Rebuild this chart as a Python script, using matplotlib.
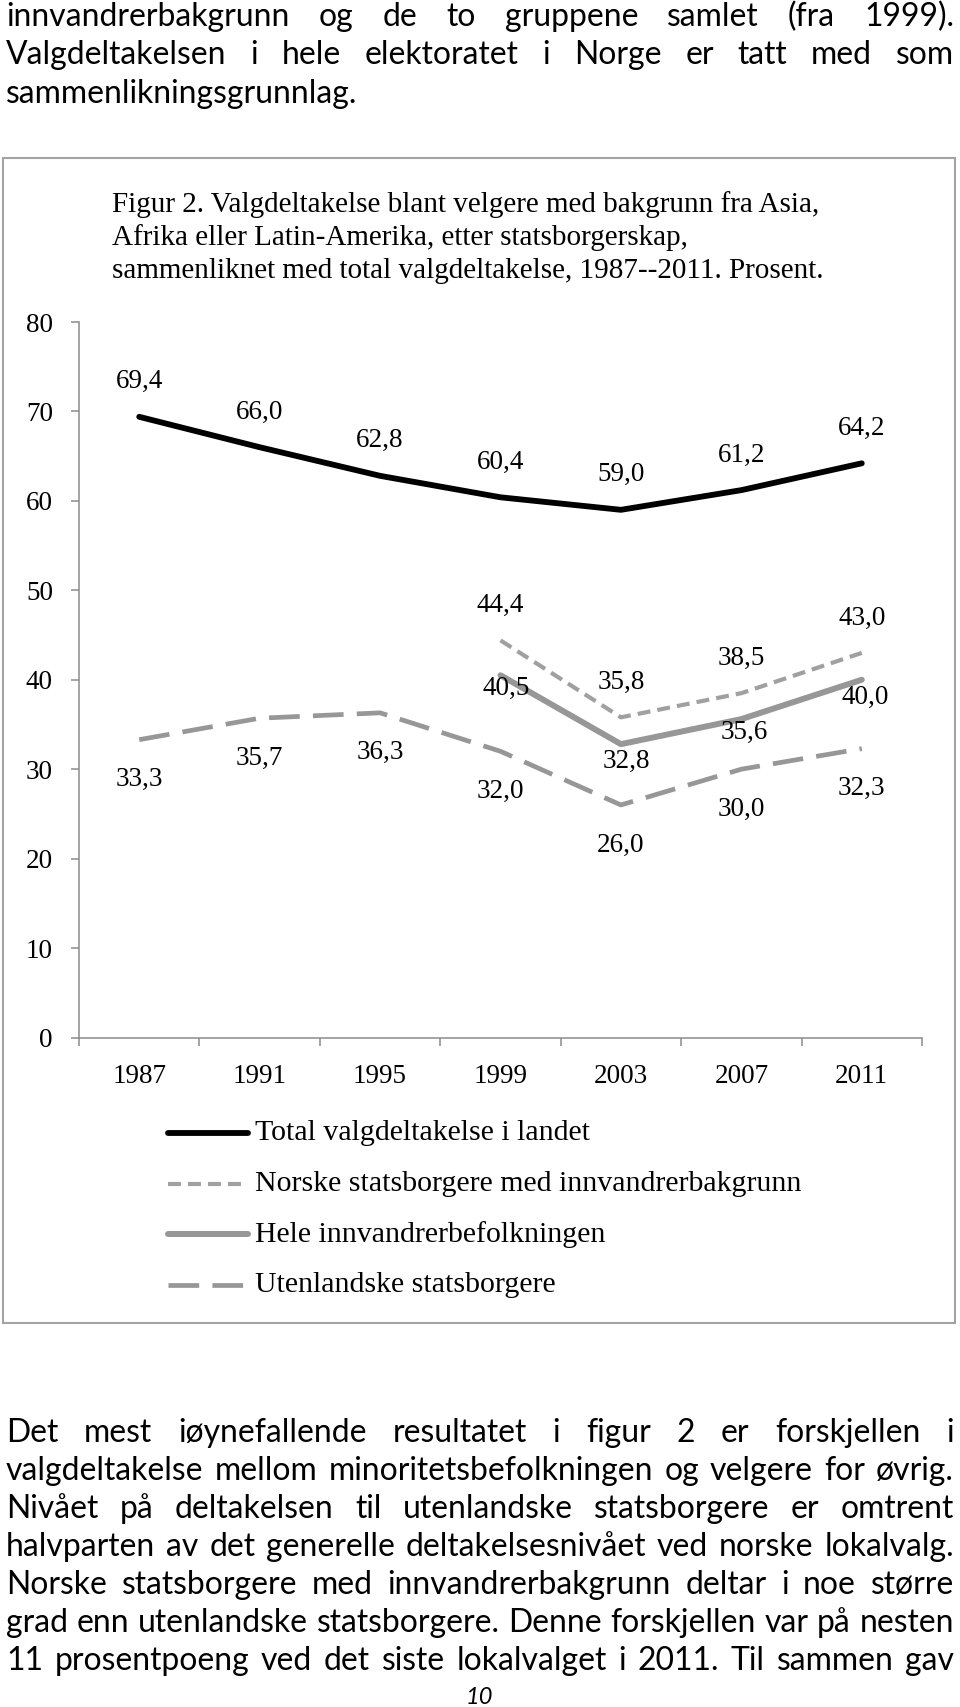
import numpy as np
import matplotlib
matplotlib.use('Agg')
import matplotlib.pyplot as plt
from matplotlib.lines import Line2D
from matplotlib.patches import Rectangle

W, H = 960, 1707

# Data (Prosent)
years = ['1987', '1991', '1995', '1999', '2003', '2007', '2011']
total = [69.4, 66.0, 62.8, 60.4, 59.0, 61.2, 64.2]
norske = [np.nan, np.nan, np.nan, 44.4, 35.8, 38.5, 43.0]
hele = [np.nan, np.nan, np.nan, 40.5, 32.8, 35.6, 40.0]
utenlandske = [33.3, 35.7, 36.3, 32.0, 26.0, 30.0, 32.3]
series_names = ['Total valgdeltakelse i landet',
                'Norske statsborgere med innvandrerbakgrunn',
                'Hele innvandrerbefolkningen',
                'Utenlandske statsborgere']
yticks = [0, 10, 20, 30, 40, 50, 60, 70, 80]

title_lines = ['Figur 2. Valgdeltakelse blant velgere med bakgrunn fra Asia,',
               'Afrika eller Latin-Amerika, etter statsborgerskap,',
               'sammenliknet med total valgdeltakelse, 1987--2011. Prosent.']

top_text = ['innvandrerbakgrunn og de to gruppene samlet (fra 1999).',
            'Valgdeltakelsen i hele elektoratet i Norge er tatt med som',
            'sammenlikningsgrunnlag.']
bottom_text = ['Det mest iøynefallende resultatet i figur 2 er forskjellen i',
               'valgdeltakelse mellom minoritetsbefolkningen og velgere for øvrig.',
               'Nivået på deltakelsen til utenlandske statsborgere er omtrent',
               'halvparten av det generelle deltakelsesnivået ved norske lokalvalg.',
               'Norske statsborgere med innvandrerbakgrunn deltar i noe større',
               'grad enn utenlandske statsborgere. Denne forskjellen var på nesten',
               '11 prosentpoeng ved det siste lokalvalget i 2011. Til sammen gav']

serif = 'Liberation Serif'
body = 'Lato'
cfs = 19.5   # data labels and ticks
tfs = 21     # figure title
lfs = 21.5   # legend
gray = '#8c8c8c'


def fx(px):
    return px / W


def fy(py):
    return 1 - py / H


def fmt(v):
    return f'{v:.1f}'.replace('.', ',')


fig = plt.figure(figsize=(W / 100, H / 100), dpi=100)
renderer = fig.canvas.get_renderer()

# fit body font so the tightest line fills the text width
widest = 0
for line in top_text + bottom_text:
    t = fig.text(0, 0, line, fontsize=20, family=body)
    widest = max(widest, t.get_window_extent(renderer).width)
    t.remove()
bfs = 20 * 946 / widest


def text_line(line, y_base, justify=True, x0=6, x1=954):
    if not justify:
        fig.text(fx(x0), fy(y_base), line, fontsize=bfs, family=body, va='baseline')
        return
    words = line.split()
    texts = [fig.text(0, fy(y_base), w, fontsize=bfs, family=body, va='baseline')
             for w in words]
    widths = [t.get_window_extent(renderer).width for t in texts]
    gap = (x1 - x0 - sum(widths)) / (len(words) - 1)
    x = x0
    for t, w in zip(texts, widths):
        t.set_x(fx(x))
        x += w + gap


# surrounding page text
for i, line in enumerate(top_text):
    text_line(line, 26 + 38.5 * i, justify=(i < 2))
for i, line in enumerate(bottom_text):
    text_line(line, 1442 + 38 * i)
fig.text(fx(479), fy(1704), '10', fontsize=17, family=body, style='italic',
         ha='center', va='baseline')

# frame around the figure
fig.add_artist(Rectangle((fx(3), fy(1323)), 952 / W, 1165 / H, transform=fig.transFigure,
                         fill=False, edgecolor='#a3a3a3', lw=1.5))

for i, line in enumerate(title_lines):
    fig.text(fx(112), fy(212 + 33 * i), line, fontsize=tfs, family=serif, va='baseline')

# chart
ax = fig.add_axes([fx(79), fy(1037.5), 843 / W, 715.5 / H])
x = np.arange(len(years))

styles = [
    dict(color='black', lw=4.2, solid_capstyle='round', solid_joinstyle='round'),
    dict(color='#a0a0a0', lw=3.0, linestyle=(0, (3.1, 1.7))),
    dict(color='#979797', lw=4.3, solid_capstyle='round', solid_joinstyle='round'),
    dict(color='#979797', lw=3.4, linestyle=(0, (6.5, 2.8))),
]
series = [total, norske, hele, utenlandske]
for vals, st in zip(series, styles):
    ax.plot(x, vals, **st)

# data labels (offsets in px, converted to points)
label_offsets = [
    [(0, 35)] * 7,
    [(0, 35)] * 7,
    [(0, 0)] * 3 + [(6, -13), (5, -17), (3, -13), (3, -18)],
    [(0, -40)] * 7,
]
for vals, offs in zip(series, label_offsets):
    for i, v in enumerate(vals):
        if np.isnan(v):
            continue
        dx, dy = offs[i]
        ax.annotate(fmt(v), (i, v), xytext=(dx * 0.72, dy * 0.72), textcoords='offset points',
                    ha='center', va='center', fontsize=cfs, family=serif)

ax.set_xlim(-0.5, len(years) - 0.5)
ax.set_ylim(0, 80)
ax.set_yticks(yticks)
ax.set_yticklabels([str(t) for t in yticks], fontsize=cfs, family=serif)
ax.set_xticks(np.arange(-0.5, len(years), 1))
ax.set_xticklabels([])
ax.set_xticks(x, minor=True)
ax.set_xticklabels(years, minor=True, fontsize=cfs, family=serif)
ax.tick_params(axis='x', which='major', length=5.5, width=1.1, color=gray, direction='out')
ax.tick_params(axis='x', which='minor', length=0, pad=19)
ax.tick_params(axis='y', length=5.8, width=1.1, color=gray, pad=13)
for s in ['top', 'right']:
    ax.spines[s].set_visible(False)
for s in ['left', 'bottom']:
    ax.spines[s].set_color(gray)
    ax.spines[s].set_linewidth(1.1)
ax.patch.set_visible(False)

# legend drawn below the axis
for k, (name, st) in enumerate(zip(series_names, styles)):
    yy = fy(1133 + 50.7 * k)
    fig.add_artist(Line2D([fx(168), fx(248)], [yy, yy], transform=fig.transFigure, **st))
    fig.text(fx(255), yy, name, fontsize=lfs, family=serif, va='center')

fig.savefig('out.png', dpi=100)
